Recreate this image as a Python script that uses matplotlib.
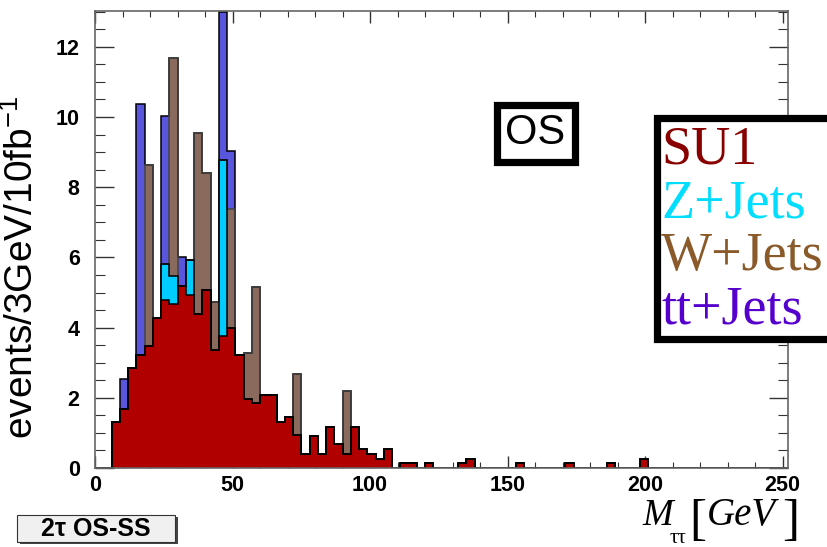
import numpy as np
import matplotlib
matplotlib.use("Agg")
import matplotlib.pyplot as plt
from matplotlib.patches import Rectangle

# 3 GeV bins, 0 - 252 GeV
bin_width = 3
n_bins = 84

# SU1 signal, one value per bin starting at 0 GeV
su1 = [0, 0, 1.31, 1.69, 2.84, 3.23, 3.49, 4.27, 4.80, 4.67,
       5.18, 4.93, 4.40, 5.06, 3.37, 3.75, 4.00, 3.23, 1.97, 1.84,
       2.09, 2.09, 1.30, 1.44, 0.93, 0.40, 0.92, 0.40, 1.18, 0.67,
       0.40, 1.18, 0.53, 0.40, 0.27, 0.53, 0, 0.13, 0.13, 0,
       0.13, 0, 0, 0, 0.13, 0.27, 0, 0, 0, 0,
       0, 0.13, 0, 0, 0, 0, 0, 0.13, 0, 0,
       0, 0, 0.13, 0, 0, 0, 0.27, 0, 0, 0,
       0, 0, 0, 0, 0, 0, 0, 0, 0, 0,
       0, 0, 0, 0]

# backgrounds: bin lower edge (GeV) -> events
zjets = {24: 1.00, 27: 0.80, 33: 1.01, 45: 5.02}
wjets = {18: 5.14, 27: 6.21, 36: 5.13, 39: 3.35, 42: 1.35, 48: 3.37,
         54: 1.32, 57: 3.33, 72: 1.76, 90: 1.78}
ttjets = {9: 0.84, 15: 7.15, 24: 4.24, 30: 0.84, 45: 4.22, 48: 1.66}

legend_names = ["SU1", "Z+Jets", "W+Jets", "tt+Jets"]


def to_array(d):
    a = np.zeros(n_bins)
    for lo, v in d.items():
        a[lo // bin_width] = v
    return a


edges = np.arange(0, (n_bins + 1) * bin_width, bin_width)
s1 = np.array(su1)
s2 = s1 + to_array(zjets)
s3 = s2 + to_array(wjets)
s4 = s3 + to_array(ttjets)

W, H = 827, 547
fig = plt.figure(figsize=(W / 100, H / 100), dpi=100)
ax = fig.add_axes([95 / W, 1 - 468 / H, (788 - 95) / W, (468 - 11) / H])

# THStack style: draw cumulative sums from the top down
stack = [(s4, "#5a55dd", "black"), (s3, "#8a6a5c", "#444444"),
         (s2, "#00ccff", "black"), (s1, "#b00000", "black")]
for vals, fc, ec in stack:
    ax.stairs(vals, edges, fill=True, color=fc, zorder=2)
    ax.stairs(vals, edges, fill=False, color=ec, linewidth=1.1, zorder=3)

ax.set_xlim(0, 252)
ax.set_ylim(0, 13.02)
ax.set_xticks(np.arange(0, 251, 50))
ax.set_xticks(np.arange(0, 251, 10), minor=True)
ax.set_yticks(np.arange(0, 13, 2))
ax.set_yticks(np.arange(0, 13.01, 0.5), minor=True)

tick_font = dict(family="Liberation Sans", weight="bold", size=15.5)
ax.set_xticklabels([str(v) for v in range(0, 251, 50)], **tick_font)
ax.set_yticklabels([str(v) for v in range(0, 13, 2)], **tick_font)
ax.tick_params(axis="both", which="both", direction="in", top=True, right=True,
               color="#333333")
ax.tick_params(axis="x", which="major", length=8.6, width=1.0, pad=5)
ax.tick_params(axis="x", which="minor", length=4.3, width=0.8)
ax.tick_params(axis="y", which="major", length=14, width=1.0, pad=11)
ax.tick_params(axis="y", which="minor", length=7, width=0.8)
for sp in ax.spines.values():
    sp.set_color("#666666")
    sp.set_linewidth(1.2)
    sp.set_zorder(4)

fig.text(22 / W, 1 - 267 / H, r"events/3GeV/10fb$^{\mathregular{-1}}$",
         rotation=90, ha="center", va="center",
         family="Liberation Sans", fontsize=28)

# axis title M_tautau [GeV], set piece by piece in Times style
serif = "Liberation Serif"
fig.text(642 / W, 1 - 525 / H, "M", ha="left", va="baseline",
         family=serif, style="italic", fontsize=26.5)
fig.text(670 / W, 1 - 543 / H, "\u03c4\u03c4", ha="left", va="baseline",
         family=serif, fontsize=15)
fig.text(689 / W, 1 - 534 / H, "[", ha="left", va="baseline",
         family=serif, fontsize=37)
fig.text(707 / W, 1 - 525 / H, "GeV", ha="left", va="baseline",
         family=serif, style="italic", fontsize=28)
fig.text(782 / W, 1 - 534 / H, "]", ha="left", va="baseline",
         family=serif, fontsize=37)


def px_rect(x0, y0, x1, y1, **kw):
    return Rectangle((x0 / W, 1 - y1 / H), (x1 - x0) / W, (y1 - y0) / H,
                     transform=fig.transFigure, clip_on=False, **kw)


# "OS" label box
fig.patches.append(px_rect(497, 104.5, 575, 161.5, facecolor="white",
                           edgecolor="black", linewidth=5.2, zorder=5))
fig.text(535 / W, 1 - 133 / H, "OS", ha="center", va="center",
         family="Liberation Sans", fontsize=30, zorder=6)

# legend box, runs off the right edge
fig.patches.append(px_rect(656.5, 117.5, 840, 338.5, facecolor="white",
                           edgecolor="black", linewidth=5.2, zorder=5))
leg_colors = ["#880000", "#00ddff", "#8a5a2a", "#5500cc"]
for i, (name, c) in enumerate(zip(legend_names, leg_colors)):
    fig.text(661 / W, 1 - (164 + 53 * i) / H, name, ha="left", va="baseline",
             family=serif, fontsize=39, color=c, zorder=6)

# selection tag at the bottom left
fig.patches.append(px_rect(20, 517, 178, 544, facecolor="#444444",
                           edgecolor="none", zorder=5))
fig.patches.append(px_rect(17, 515, 175, 541.5, facecolor="#f0f0f0",
                           edgecolor="#333333", linewidth=0.8, zorder=6))
fig.text(96 / W, 1 - 528.5 / H, "2\u03c4 OS-SS", ha="center", va="center",
         family="Liberation Sans", weight="bold", fontsize=18, zorder=7)

fig.savefig("out.png", dpi=100)
